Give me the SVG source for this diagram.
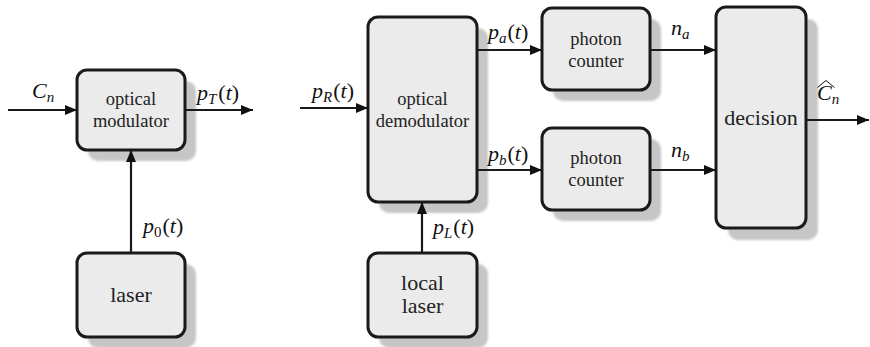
<svg xmlns="http://www.w3.org/2000/svg" width="870" height="347" viewBox="0 0 870 347">
<style>
.box{fill:#ebebeb;stroke:#1a1a1a;stroke-width:3}
.sh{fill:#c6c6c6;filter:url(#blur)}
.lbl{font-size:18.5px;fill:#222;text-anchor:middle}
.big{font-size:22px}
.m{font-size:22px;fill:#111}
.i{font-style:italic}
.s{font-size:15px;font-style:italic}
.c{stroke:#1a1a1a;stroke-width:2.2;fill:none}
</style>
<defs>
<filter id="blur" x="-10%" y="-10%" width="120%" height="120%"><feGaussianBlur stdDeviation="1.2"/></filter>
<marker id="ah" markerUnits="userSpaceOnUse" markerWidth="12" markerHeight="10" refX="12" refY="5" orient="auto"><path d="M0,0 L12,5 L0,10 Z" fill="#111"/></marker>
</defs>

<g id="modulator" font-family="Liberation Serif, serif">
<rect class="sh" x="88" y="81" width="108" height="80" rx="10"/>
<rect class="box" x="77" y="70" width="108" height="80" rx="10"/>
<text class="lbl" x="131" y="105">optical</text>
<text class="lbl" x="131" y="127">modulator</text>
</g>
<g id="laser" font-family="Liberation Serif, serif">
<rect class="sh" x="88" y="264" width="108" height="84" rx="10"/>
<rect class="box" x="77" y="253" width="108" height="84" rx="10"/>
<text class="lbl big" x="131" y="302">laser</text>
</g>
<g id="demodulator" font-family="Liberation Serif, serif">
<rect class="sh" x="379" y="28" width="109" height="185" rx="10"/>
<rect class="box" x="368" y="17" width="109" height="185" rx="10"/>
<text class="lbl" x="422.5" y="104.5">optical</text>
<text class="lbl" x="422.5" y="126.5">demodulator</text>
</g>
<g id="local-laser" font-family="Liberation Serif, serif">
<rect class="sh" x="379" y="264" width="109" height="84" rx="10"/>
<rect class="box" x="368" y="253" width="109" height="84" rx="10"/>
<text class="lbl big" x="422.5" y="290">local</text>
<text class="lbl big" x="422.5" y="313">laser</text>
</g>
<g id="counter-a" font-family="Liberation Serif, serif">
<rect class="sh" x="553" y="19" width="108" height="82" rx="10"/>
<rect class="box" x="542" y="8" width="108" height="82" rx="10"/>
<text class="lbl" x="596" y="45">photon</text>
<text class="lbl" x="596" y="67">counter</text>
</g>
<g id="counter-b" font-family="Liberation Serif, serif">
<rect class="sh" x="553" y="139" width="108" height="82" rx="10"/>
<rect class="box" x="542" y="128" width="108" height="82" rx="10"/>
<text class="lbl" x="596" y="164">photon</text>
<text class="lbl" x="596" y="186">counter</text>
</g>
<g id="decision" font-family="Liberation Serif, serif">
<rect class="sh" x="728" y="19" width="90" height="221" rx="10"/>
<rect class="box" x="716" y="7" width="90" height="221" rx="10"/>
<text class="lbl big" x="761" y="125">decision</text>
</g>

<g id="connectors">
<line class="c" x1="8" y1="110" x2="77" y2="110" marker-end="url(#ah)"/>
<line class="c" x1="185" y1="110" x2="253" y2="110" marker-end="url(#ah)"/>
<line class="c" x1="131" y1="253" x2="131" y2="150" marker-end="url(#ah)"/>
<line class="c" x1="300" y1="108" x2="368" y2="108" marker-end="url(#ah)"/>
<line class="c" x1="477" y1="50" x2="542" y2="50" marker-end="url(#ah)"/>
<line class="c" x1="477" y1="170" x2="542" y2="170" marker-end="url(#ah)"/>
<line class="c" x1="422" y1="253" x2="422" y2="202" marker-end="url(#ah)"/>
<line class="c" x1="650" y1="50" x2="716" y2="50" marker-end="url(#ah)"/>
<line class="c" x1="650" y1="170" x2="716" y2="170" marker-end="url(#ah)"/>
<line class="c" x1="806" y1="120" x2="869" y2="120" marker-end="url(#ah)"/>
</g>

<g id="labels" font-family="Liberation Serif, serif">
<text class="m" x="32" y="98"><tspan class="i">C</tspan><tspan class="s" dy="4">n</tspan></text>
<text class="m" x="197" y="100"><tspan class="i">p</tspan><tspan class="s" dy="4">T</tspan><tspan dy="-4" dx="2">(</tspan><tspan class="i">t</tspan>)</text>
<text class="m" x="143" y="233"><tspan class="i">p</tspan><tspan font-size="15" dy="4">0</tspan><tspan dy="-4" dx="1">(</tspan><tspan class="i">t</tspan>)</text>
<text class="m" x="312" y="98"><tspan class="i">p</tspan><tspan class="s" dy="4">R</tspan><tspan dy="-4" dx="1">(</tspan><tspan class="i">t</tspan>)</text>
<text class="m" x="488" y="39"><tspan class="i">p</tspan><tspan class="s" dy="4">a</tspan><tspan dy="-4" dx="1">(</tspan><tspan class="i">t</tspan>)</text>
<text class="m" x="488" y="161"><tspan class="i">p</tspan><tspan class="s" dy="4">b</tspan><tspan dy="-4" dx="1">(</tspan><tspan class="i">t</tspan>)</text>
<text class="m" x="433" y="234"><tspan class="i">p</tspan><tspan class="s" dy="4">L</tspan><tspan dy="-4" dx="1">(</tspan><tspan class="i">t</tspan>)</text>
<text class="m" x="671" y="35"><tspan class="i">n</tspan><tspan class="s" dy="4">a</tspan></text>
<text class="m" x="671" y="157"><tspan class="i">n</tspan><tspan class="s" dy="4">b</tspan></text>
<text class="m" x="817" y="100"><tspan class="i">C</tspan><tspan class="s" dy="4">n</tspan></text>
<path d="M817.5,87.5 L826,80.5 L834.5,87.5" fill="none" stroke="#111" stroke-width="1"/>
</g>
</svg>
